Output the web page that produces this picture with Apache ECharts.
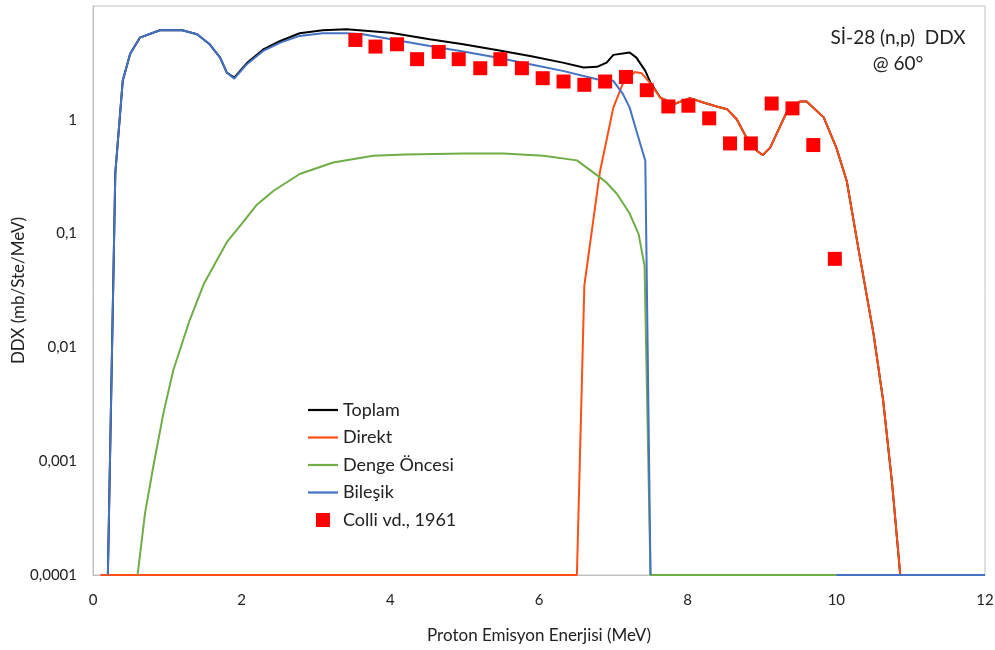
<!DOCTYPE html>
<html>
<head>
<meta charset="utf-8">
<script src="https://cdn.jsdelivr.net/npm/echarts@6/dist/echarts.min.js"></script>
<style>html,body{margin:0;padding:0;background:#fff}#c{width:995px;height:650px}</style>
</head>
<body>
<div id="c"></div>
<script>
// ---- data ----
var seriesNames = ['Toplam', 'Direkt', 'Denge Öncesi', 'Bileşik', 'Colli vd., 1961'];
var xTickLabels = ['0', '2', '4', '6', '8', '10', '12'];
var yTickExps = [-4, -3, -2, -1, 0, 1];
var yTickLabels = ['0,0001', '0,001', '0,01', '0,1', '1', ''];

var toplamX = [0.2, 0.3, 0.4, 0.5, 0.63, 0.9, 1.2, 1.4, 1.57, 1.71, 1.8, 1.9, 2.07, 2.29, 2.52, 2.78, 3.09, 3.41, 4.0, 4.53, 4.98, 5.43, 5.88, 6.32, 6.6, 6.78, 6.91, 7.0, 7.22, 7.31, 7.43, 7.5, 7.63, 7.81, 8.03, 8.21, 8.39, 8.53, 8.66, 8.79, 8.93, 9.01, 9.11, 9.33, 9.51, 9.6, 9.83, 10.0, 10.14, 10.3, 10.5, 10.63, 10.75, 10.86];
var toplamY = [0.0001, 0.34, 2.2, 3.8, 5.27, 6.12, 6.12, 5.65, 4.61, 3.52, 2.6, 2.35, 3.15, 4.15, 4.93, 5.76, 6.12, 6.24, 5.83, 5.1, 4.61, 4.11, 3.64, 3.18, 2.88, 2.92, 3.18, 3.72, 3.9, 3.52, 2.69, 2.12, 1.57, 1.37, 1.55, 1.42, 1.31, 1.24, 1.01, 0.70, 0.535, 0.49, 0.57, 1.16, 1.45, 1.45, 1.05, 0.57, 0.29, 0.072, 0.0132, 0.0034, 0.00064, 0.0001];

var direktX = [0.1, 6.51, 6.61, 6.82, 7.0, 7.13, 7.29, 7.38, 7.49, 7.63, 7.81, 8.03, 8.21, 8.39, 8.53, 8.66, 8.79, 8.93, 9.01, 9.11, 9.33, 9.51, 9.6, 9.83, 10.0, 10.14, 10.3, 10.5, 10.63, 10.75, 10.86];
var direktY = [0.0001, 0.0001, 0.035, 0.35, 1.28, 2.1, 2.63, 2.57, 2.12, 1.57, 1.37, 1.55, 1.42, 1.31, 1.24, 1.01, 0.70, 0.535, 0.49, 0.57, 1.16, 1.45, 1.45, 1.05, 0.57, 0.29, 0.072, 0.0132, 0.0034, 0.00064, 0.0001];

var dengeX = [0.6, 0.7, 0.81, 0.95, 1.08, 1.3, 1.49, 1.8, 2.0, 2.2, 2.43, 2.78, 3.23, 3.77, 4.2, 4.98, 5.52, 6.06, 6.51, 6.82, 6.91, 7.05, 7.22, 7.34, 7.42, 7.5, 10.0];
var dengeY = [0.0001, 0.00035, 0.00089, 0.0027, 0.0063, 0.0173, 0.036, 0.084, 0.122, 0.178, 0.238, 0.334, 0.422, 0.483, 0.495, 0.506, 0.506, 0.483, 0.44, 0.312, 0.28, 0.223, 0.15, 0.099, 0.052, 0.0001, 0.0001];

var bilesikX = [0.2, 0.3, 0.4, 0.5, 0.63, 0.9, 1.2, 1.4, 1.57, 1.71, 1.8, 1.9, 2.07, 2.29, 2.52, 2.78, 3.09, 3.41, 3.63, 4.09, 4.53, 4.98, 5.43, 5.88, 6.32, 6.78, 7.0, 7.13, 7.22, 7.31, 7.43, 7.5, 8.75, 10.0, 12.0];
var bilesikY = [0.0001, 0.34, 2.2, 3.8, 5.27, 6.12, 6.12, 5.65, 4.61, 3.52, 2.6, 2.3, 3.08, 4.03, 4.77, 5.46, 5.76, 5.76, 5.65, 5.0, 4.46, 3.98, 3.52, 3.08, 2.69, 2.27, 2.2, 1.68, 1.28, 0.80, 0.437, 0.0001, '-', 0.0001, 0.0001];

var colliX = [3.53, 3.80, 4.09, 4.36, 4.65, 4.92, 5.21, 5.48, 5.77, 6.05, 6.33, 6.61, 6.89, 7.17, 7.45, 7.74, 8.01, 8.29, 8.57, 8.85, 9.13, 9.41, 9.69, 9.98];
var colliY = [5.03, 4.4, 4.61, 3.41, 3.95, 3.41, 2.84, 3.41, 2.84, 2.32, 2.17, 2.03, 2.17, 2.38, 1.82, 1.31, 1.33, 1.03, 0.62, 0.62, 1.39, 1.26, 0.60, 0.06];

var colors = ['#000000', '#FF4F17', '#70AD47', '#4472C4', '#FF0000'];

function pairs(xs, ys) { return xs.map(function (x, i) { return [x, ys[i]]; }); }

var FONT = 'Lato, "Open Sans", "Noto Sans", sans-serif';
var LINE_ICON = 'path://M0,0L30,0L30,2.2L0,2.2Z';
var SQUARE_ICON = 'path://M0,0L10,0L10,10L0,10Z';
var chart = echarts.init(document.getElementById('c'), null, { renderer: 'canvas' });

function lineSeries(idx, xs, ys) {
  return {
    name: seriesNames[idx], type: 'line', data: pairs(xs, ys),
    symbol: 'none', showSymbol: false, smooth: false, connectNulls: false,
    lineStyle: { color: colors[idx], width: 2 }, itemStyle: { color: colors[idx] },
    z: 2 + idx, animation: false, clip: true
  };
}

chart.setOption({
  animation: false,
  title: {
    text: 'Sİ-28 (n,p)  DDX\n@ 60°',
    left: 893, top: 20, textAlign: 'center',
    textStyle: { fontFamily: FONT, fontSize: 19, fontWeight: 'normal', color: '#222', lineHeight: 26 }
  },
  legend: {
    orient: 'vertical', left: 308, top: 401, padding: 0,
    itemWidth: 30, itemHeight: 14, itemGap: 9.5, symbolKeepAspect: true,
    textStyle: { fontFamily: FONT, fontSize: 18, color: '#222' },
    data: [
      { name: seriesNames[0], icon: LINE_ICON }, { name: seriesNames[1], icon: LINE_ICON },
      { name: seriesNames[2], icon: LINE_ICON }, { name: seriesNames[3], icon: LINE_ICON },
      { name: seriesNames[4], icon: SQUARE_ICON }
    ]
  },
  grid: { left: 93, right: 10, top: 6, bottom: 75, show: true, borderColor: '#C0C0C0', borderWidth: 1, containLabel: false, outerBoundsMode: 'none' },
  xAxis: {
    type: 'value', min: 0, max: 12, interval: 2,
    name: 'Proton Emisyon Enerjisi (MeV)', nameLocation: 'middle', nameGap: 52,
    nameTextStyle: { fontFamily: FONT, fontSize: 17, color: '#222' },
    axisLine: { show: true, lineStyle: { color: '#C0C0C0', width: 1 } },
    axisTick: { show: false }, splitLine: { show: false },
    axisLabel: {
      fontFamily: FONT, fontSize: 15, color: '#222', margin: 18,
      formatter: function (v) { return xTickLabels[Math.round(v / 2)]; }
    }
  },
  yAxis: {
    type: 'log', logBase: 10, min: 0.0001, max: 10,
    name: 'DDX (mb/Ste/MeV)', nameLocation: 'middle', nameGap: 66, nameRotate: 90, nameMoveOverlap: false,
    nameTextStyle: { fontFamily: FONT, fontSize: 17, color: '#222' },
    axisLine: { show: true, lineStyle: { color: '#C0C0C0', width: 1 } },
    axisTick: { show: false }, splitLine: { show: false },
    axisLabel: {
      fontFamily: FONT, fontSize: 15, color: '#222', margin: 16,
      formatter: function (v) {
        var e = Math.round(Math.log10(v));
        var i = yTickExps.indexOf(e);
        return i >= 0 ? yTickLabels[i] : '';
      }
    }
  },
  series: [
    lineSeries(0, toplamX, toplamY),
    lineSeries(1, direktX, direktY),
    lineSeries(2, dengeX, dengeY),
    lineSeries(3, bilesikX, bilesikY),
    {
      name: seriesNames[4], type: 'scatter', data: pairs(colliX, colliY),
      symbol: 'rect', symbolSize: 14, symbolKeepAspect: true,
      itemStyle: { color: colors[4], opacity: 1 }, z: 10, animation: false
    }
  ]
});
</script>
</body>
</html>
